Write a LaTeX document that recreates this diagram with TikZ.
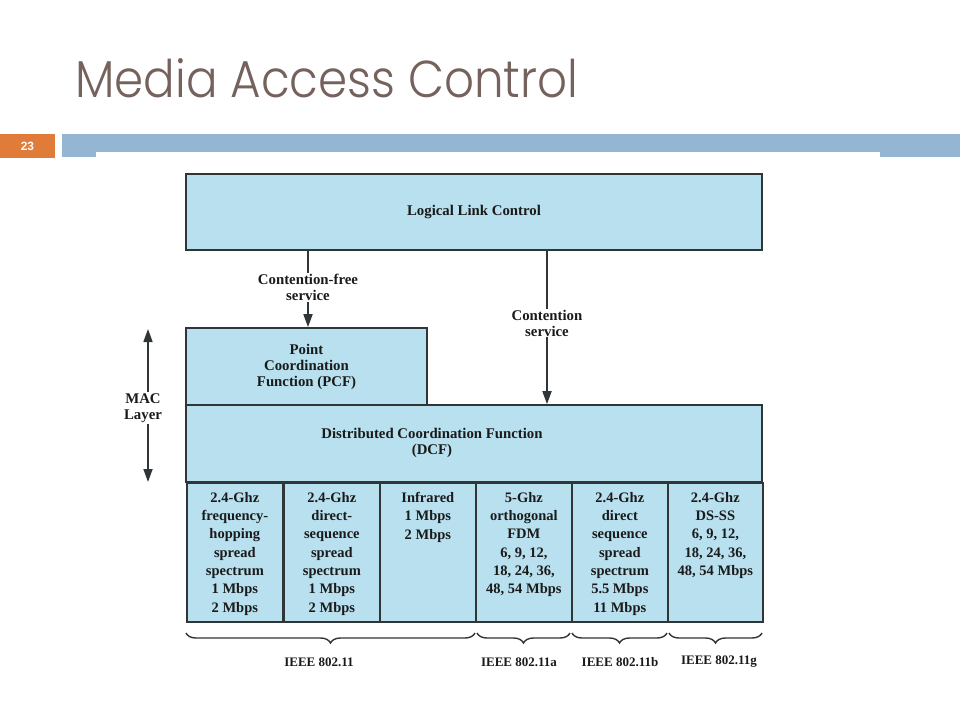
\documentclass[tikz,border=0pt]{standalone}
\usepackage{fontspec}
\setmainfont{Liberation Serif}
\newfontfamily\titlefont{Poppins Light}
\newfontfamily\numfont{Liberation Sans}
\usetikzlibrary{arrows.meta,decorations.pathreplacing}
\definecolor{boxfill}{HTML}{B8E0EE}
\definecolor{boxline}{HTML}{303538}
\definecolor{titlecol}{HTML}{76625C}
\definecolor{barblue}{HTML}{94B6D2}
\definecolor{barorange}{HTML}{E07B39}
\definecolor{txt}{HTML}{1A1A1A}
\tikzset{
  box/.style={draw=boxline, fill=boxfill, line width=1.7pt, inner sep=0pt},
  lbl/.style={font=\fontsize{14.8}{16}\selectfont\bfseries, text=txt, align=center, inner sep=1pt},
  celltxt/.style={font=\fontsize{14.5}{18.3}\selectfont\bfseries, text=txt, align=center, anchor=north, inner sep=0pt},
  stdtxt/.style={font=\fontsize{13}{15}\selectfont\bfseries, text=txt, inner sep=1pt},
  conn/.style={draw=boxline, line width=1.7pt},
  arr/.style={conn, -{Triangle[width=9pt,length=13pt]}},
  brc/.style={draw=boxline, line width=1.4pt, decorate, decoration={brace, mirror, amplitude=10pt}},
}
\begin{document}
\begin{tikzpicture}[x=1pt,y=-1pt]
\useasboundingbox (0,0) rectangle (960,720);
\fill[white] (0,0) rectangle (960,720);
% title
\node[anchor=base west, inner sep=0pt, text=titlecol] (title) at (75,97)
  {\resizebox{503pt}{39pt}{\titlefont Media Access Control}};
% header bar
\fill[barorange] (0,134) rectangle (55,158);
\node[text=white, font=\numfont\bfseries\fontsize{12}{14}\selectfont] (pg) at (27.5,146) {23};
\fill[barblue] (62,134) rectangle (960,152);
\fill[barblue] (62,152) rectangle (96,157);
\fill[barblue] (880,152) rectangle (960,157);
% boxes
\node[box, minimum width=576pt, minimum height=76pt] (llc) at (474,212) {};
\node[lbl] at (llc.center) {Logical Link Control};
\node[box, minimum width=241pt, minimum height=77pt] (pcf) at (306.5,366.5) {};
\node[lbl] at (pcf.center) {Point\\Coordination\\Function (PCF)};
\node[box, minimum width=576pt, minimum height=77pt] (dcf) at (474,443.5) {};
\node[lbl] at (432,443) {Distributed Coordination Function\\(DCF)};
% bottom cells
\foreach \i/\x in {1/186,2/283,3/379,4/475,5/571}{
  \node[box, minimum height=139pt, minimum width=96pt, anchor=north west] (c\i) at (\x,482) {};
}
\node[box, minimum height=139pt, minimum width=95pt, anchor=north west] (c6) at (667,482) {};
\node[celltxt] at ([yshift=-10pt]c1.north) {2.4-Ghz\\frequency-\\hopping\\spread\\spectrum\\1 Mbps\\2 Mbps};
\node[celltxt] at ([yshift=-10pt]c2.north) {2.4-Ghz\\direct-\\sequence\\spread\\spectrum\\1 Mbps\\2 Mbps};
\node[celltxt] at ([yshift=-10pt]c3.north) {Infrared\\1 Mbps\\2 Mbps};
\node[celltxt] at ([yshift=-10pt]c4.north) {5-Ghz\\orthogonal\\FDM\\6, 9, 12,\\18, 24, 36,\\48, 54 Mbps};
\node[celltxt] at ([yshift=-10pt]c5.north) {2.4-Ghz\\direct\\sequence\\spread\\spectrum\\5.5 Mbps\\11 Mbps};
\node[celltxt] at ([yshift=-10pt]c6.north) {2.4-Ghz\\DS-SS\\6, 9, 12,\\18, 24, 36,\\48, 54 Mbps};
% connectors
\node[lbl] (cf) at (308,287.5) {Contention-free\\service};
\draw[conn] (llc.south -| cf) -- (cf.north);
\draw[arr] (cf.south) -- (cf.south |- pcf.north);
\node[lbl] (cs) at (547,323) {Contention\\service};
\draw[conn] (llc.south -| cs) -- (cs.north);
\draw[arr] (cs.south) -- (cs.south |- dcf.north);
% MAC layer
\node[lbl] (mac) at (143,408) {MAC\\Layer};
\coordinate (mtop) at (148,329);
\coordinate (mbot) at (148,482);
\draw[arr] (mac.north -| mtop) -- (mtop);
\draw[arr] (mac.south -| mbot) -- (mbot);
% braces
\coordinate (b1a) at (186,633); \coordinate (b1b) at (475,633);
\coordinate (b2a) at (477,633); \coordinate (b2b) at (570,633);
\coordinate (b3a) at (572,633); \coordinate (b3b) at (667,633);
\coordinate (b4a) at (669,633); \coordinate (b4b) at (762,633);
\draw[brc] (b1a) -- (b1b);
\draw[brc] (b2a) -- (b2b);
\draw[brc] (b3a) -- (b3b);
\draw[brc] (b4a) -- (b4b);
\node[stdtxt] (s1) at (319,662) {IEEE 802.11};
\node[stdtxt] (s2) at (519,662) {IEEE 802.11a};
\node[stdtxt] (s3) at (620,662) {IEEE 802.11b};
\node[stdtxt] (s4) at (719,662) {IEEE 802.11g};
\end{tikzpicture}
\end{document}
